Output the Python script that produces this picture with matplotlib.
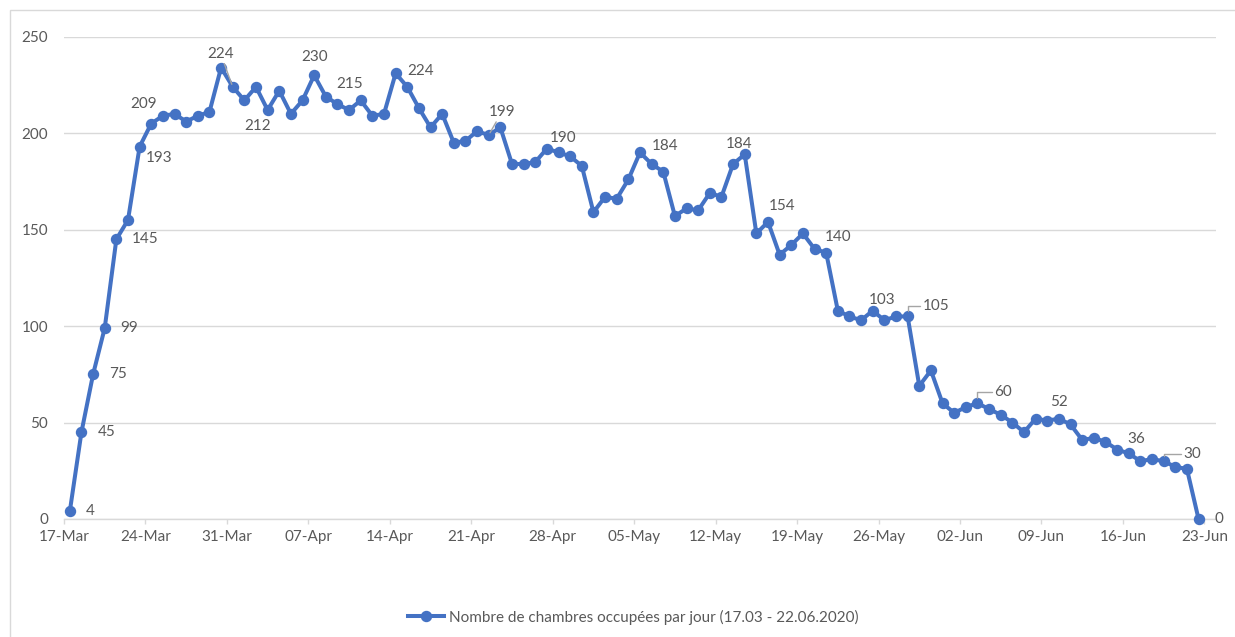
import matplotlib
matplotlib.use("Agg")
import matplotlib.pyplot as plt
import matplotlib.dates as mdates
from matplotlib.patches import Rectangle
from matplotlib.lines import Line2D
import numpy as np
import datetime as dt

# Chambres occupées par jour, 17.03 -> 22.06.2020
start = dt.date(2020, 3, 17)
occupied = [
    4, 45, 75, 99, 145, 155, 193, 205, 209, 210,
    206, 209, 211, 234, 224, 217, 224, 212, 222, 210,
    217, 230, 219, 215, 212, 217, 209, 210, 231, 224,
    213, 203, 210, 195, 196, 201, 199, 203, 184, 184,
    185, 192, 190, 188, 183, 159, 167, 166, 176, 190,
    184, 180, 157, 161, 160, 169, 167, 184, 189, 148,
    154, 137, 142, 148, 140, 138, 108, 105, 103, 108,
    103, 105, 105, 69, 77, 60, 55, 58, 60, 57,
    54, 50, 45, 52, 51, 52, 49, 41, 42, 40,
    36, 34, 30, 31, 30, 27, 26, 0,
]
days = [start + dt.timedelta(days=i) for i in range(len(occupied))]
series_name = "Nombre de chambres occupées par jour (17.03 - 22.06.2020)"

# index du point étiqueté, décalage du texte (px), trait de rappel
labelled = [
    (0, 20, 0, None), (1, 25, 0, None), (2, 25, 0, None), (3, 24, 0, None),
    (4, 29, 0, None), (6, 19, -11, None), (8, -19, 12, None),
    (14, -12, 33, "straight"), (17, -10, -16, None), (21, 0, 18, None),
    (23, 12, 20, None), (29, 13, 16, None), (36, 13, 23, "straight"),
    (42, 5, 14, None), (50, 13, 18, None), (57, 6, 20, None),
    (60, 14, 16, None), (64, 24, 12, None), (70, -2, 20, None),
    (72, 28, 10, "elbow"), (78, 26, 11, "elbow"), (85, 0, 17, None),
    (90, 19, 11, None), (94, 29, 7, "elbow"), (97, 20, 0, None),
]

blue = "#4472C4"
grey_txt = "#595959"
grid_c = "#D9D9D9"
px = 0.72  # points per pixel at dpi=100
fs = 11

plt.rcParams["font.family"] = ["Lato", "DejaVu Sans"]
fig = plt.figure(figsize=(12.35, 6.37), dpi=100)
ax = fig.add_axes([64 / 1235, 1 - 519 / 637, (1216 - 64) / 1235, (519 - 36.7) / 637])

# positions au milieu de chaque jour
x = mdates.date2num(days) + 0.5
ax.plot(x, occupied, color=blue, lw=2.9, marker="o", ms=7.2, zorder=3,
        solid_joinstyle="round", clip_on=False, label=series_name)

ax.set_ylim(0, 250)
ax.set_yticks(range(0, 251, 50))
ax.set_xlim(mdates.date2num(start), mdates.date2num(start) + 99)
ticks = [mdates.date2num(start) + 7 * k for k in range(15)]
ax.set_xticks(ticks)
ax.xaxis.set_major_formatter(mdates.DateFormatter("%d-%b"))

ax.grid(axis="y", color=grid_c, lw=1.0)
ax.set_axisbelow(True)
for s in ["top", "right", "left"]:
    ax.spines[s].set_visible(False)
ax.spines["bottom"].set_color(grid_c)
ax.spines["bottom"].set_linewidth(1.0)
ax.tick_params(axis="y", length=0, pad=11.5, labelsize=fs, labelcolor=grey_txt)
ax.tick_params(axis="x", length=3.6, width=1.0, color=grid_c, pad=4,
               labelsize=fs, labelcolor=grey_txt)

for i, dx, dy, lead in labelled:
    kw = {}
    if lead == "straight":
        kw["arrowprops"] = dict(arrowstyle="-", color="#A5A5A5", lw=1.0,
                                shrinkA=0, shrinkB=2)
    elif lead == "elbow":
        kw["arrowprops"] = dict(arrowstyle="-", color="#A5A5A5", lw=1.0,
                                shrinkA=0, shrinkB=4,
                                connectionstyle="angle,angleA=0,angleB=90,rad=0")
    ax.annotate(str(occupied[i]), (x[i], occupied[i]), xytext=(dx * px, dy * px),
                textcoords="offset points", ha="center", va="center",
                fontsize=fs, color=grey_txt, zorder=4, **kw)

# cadre du graphique
fig.add_artist(Rectangle((10 / 1235, -0.1), 1.2, 1 - 10 / 637 + 0.1,
                         transform=fig.transFigure, fill=False,
                         edgecolor=grid_c, lw=1.0))

handle = Line2D([], [], color=blue, lw=2.9, marker="o", ms=7.2)
fig.legend([handle], [series_name], loc="center", bbox_to_anchor=(633 / 1235, 1 - 617 / 637),
           frameon=False, fontsize=fs, labelcolor=grey_txt, handlelength=2.4,
           handletextpad=0.3)

fig.savefig("out.png", dpi=100)
